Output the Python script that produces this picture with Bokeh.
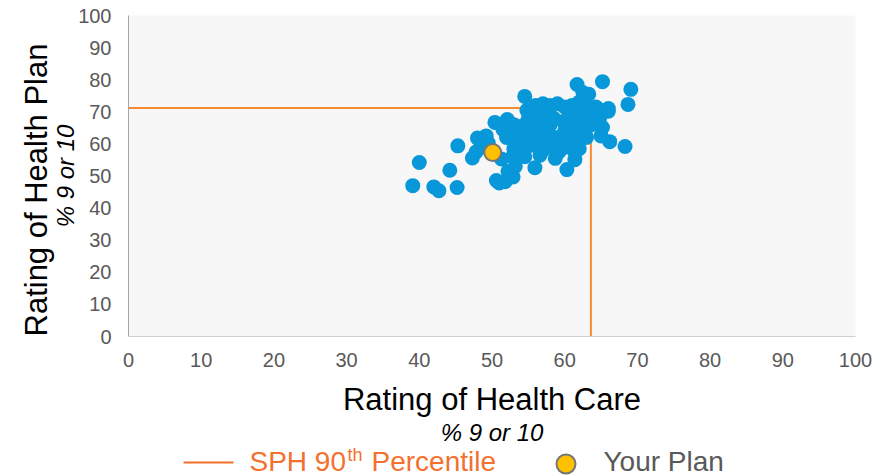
from bokeh.plotting import figure
from bokeh.models import Range1d, FixedTicker, ColumnDataSource, Title
from bokeh.layouts import column
from bokeh.core.properties import value
from bokeh.embed import file_html
from bokeh.resources import INLINE

FONT = "Liberation Sans"

# ---- data ----
care = [39.1, 40.0, 42.0, 42.7, 44.2, 45.2, 45.3, 47.3, 47.8, 48.0, 48.5, 49.2, 49.5,
        50.6, 51.0, 51.8, 52.9, 52.2, 53.2, 55.9, 51.3, 50.4, 52.1, 51.5, 52.0, 53.0,
        52.8, 54.5,
        61.7, 65.2, 69.1, 68.7, 66.2, 68.3, 65.2, 64.3, 66.0, 63.3, 62.5, 64.8, 63.7,
        65.0, 60.3, 61.4, 61.4, 63.0, 62.8, 64.5, 66.0,
        53.5, 54.0, 54.5, 55.0, 55.5, 56.0, 57.0, 58.0, 59.0, 60.0, 61.0, 62.0, 56.0,
        56.5, 57.0, 57.5, 58.0, 58.5, 59.0, 59.5, 60.0, 60.5, 61.0, 61.5, 62.0, 62.5,
        53.8, 54.5, 55.2, 55.8, 56.3, 57.2, 58.3, 59.2, 60.2, 61.0, 62.0, 63.0, 57.8,
        55.0, 54.2, 56.6, 58.7, 59.8, 60.8, 57.5, 55.4, 53.0, 63.5, 60.0, 61.8, 62.8,
        58.2, 54.8, 53.2]
plan = [47.0, 54.2, 46.6, 45.4, 51.8, 46.4, 59.4, 55.6, 57.5, 61.8, 59.0, 62.5, 60.3,
        48.6, 47.8, 48.2, 49.7, 51.5, 53.0, 52.6, 55.3, 66.7, 67.6, 64.5, 62.0, 58.5,
        56.0, 74.8,
        78.5, 79.4, 77.0, 72.3, 60.7, 59.2, 65.1, 71.5, 70.2, 75.5, 76.0, 68.0, 66.0,
        62.5, 52.0, 55.1, 57.5, 62.0, 73.0, 71.0, 71.0,
        61.0, 64.0, 66.0, 68.0, 70.0, 72.0, 72.5, 72.0, 72.5, 71.5, 72.0, 73.0, 62.0,
        60.0, 58.0, 64.0, 66.0, 68.0, 62.0, 60.0, 64.0, 66.0, 68.0, 62.0, 65.0, 69.0,
        58.5, 56.0, 59.5, 64.5, 67.0, 69.5, 61.0, 57.5, 59.0, 60.0, 58.5, 68.0, 63.0,
        62.5, 62.0, 56.5, 55.5, 67.0, 70.0, 71.0, 66.0, 66.0, 70.5, 62.0, 64.0, 63.5,
        59.2, 70.5, 64.0]

your_plan_care = [50.1]
your_plan_plan = [57.3]

p90_care = 63.6
p90_plan = 71.2

x_ticks = [0, 10, 20, 30, 40, 50, 60, 70, 80, 90, 100]
y_ticks = [0, 10, 20, 30, 40, 50, 60, 70, 80, 90, 100]

x_title = "Rating of Health Care"
y_title = "Rating of Health Plan"
sub_title = "% 9 or 10"
legend_line_parts = ["SPH 90", "th", "Percentile"]
legend_dot_label = "Your Plan"

BLUE = "#0897D8"
ORANGE = "#F58A2F"
LEG_ORANGE = "#F4702E"
GOLD = "#FFC000"
GRAY_TXT = "#595959"

W = 887
FRAME_L, FRAME_R, FRAME_T, FRAME_B = 128, 855, 15, 336
MAIN_H = 376
LEG_H = 100

# ---- main chart ----
p = figure(width=W, height=MAIN_H, output_backend="svg", toolbar_location=None,
           x_range=Range1d(0, 100), y_range=Range1d(0, 100),
           min_border_left=FRAME_L, min_border_right=W - FRAME_R,
           min_border_top=FRAME_T, min_border_bottom=MAIN_H - FRAME_B)
p.background_fill_color = "#F7F7F7"
p.border_fill_color = "white"
p.outline_line_color = None
p.xgrid.visible = False
p.ygrid.visible = False

for ax, ticks in ((p.xaxis[0], x_ticks), (p.yaxis[0], y_ticks)):
    ax.ticker = FixedTicker(ticks=ticks)
    ax.major_tick_in = 0
    ax.major_tick_out = 0
    ax.minor_tick_in = 0
    ax.minor_tick_out = 0
    ax.major_label_text_font = FONT
    ax.major_label_text_font_size = "20px"
    ax.major_label_text_color = GRAY_TXT
p.xaxis.major_label_standoff = 16
p.yaxis.major_label_standoff = 17
p.xaxis.axis_line_color = "#D0D0D0"
p.yaxis.axis_line_color = "#A6A6A6"

# left titles (subtitle nearest the axis, then main title)
p.add_layout(Title(text=sub_title, align="center", text_font=FONT,
                   text_font_size="24px", text_font_style="italic",
                   text_color="black", standoff=-6), "left")
p.add_layout(Title(text=y_title, align="left", offset=0, text_font=FONT,
                   text_font_size="31px", text_font_style="normal",
                   text_color="black", standoff=-2), "left")

# percentile lines
p.line(x=[0, p90_care, p90_care], y=[p90_plan, p90_plan, 0],
       line_color=ORANGE, line_width=2)

src = ColumnDataSource(dict(x=care, y=plan))
p.scatter("x", "y", source=src, size=15, fill_color=BLUE, line_color=None)
p.scatter(your_plan_care, your_plan_plan, size=17, fill_color=GOLD,
          line_color="#767676", line_width=2)

# ---- bottom strip: x title, subtitle and legend (page-pixel coordinates) ----
lg = figure(width=W, height=LEG_H, output_backend="svg", toolbar_location=None,
            x_range=Range1d(FRAME_L, FRAME_R), y_range=Range1d(MAIN_H + LEG_H, MAIN_H),
            x_axis_type=None, y_axis_type=None,
            min_border_left=FRAME_L, min_border_right=W - FRAME_R,
            min_border_top=0, min_border_bottom=0)
lg.outline_line_color = None
lg.xgrid.visible = False
lg.ygrid.visible = False
lg.background_fill_color = "white"
lg.border_fill_color = "white"

xc = (FRAME_L + FRAME_R) / 2
lg.text(x=[xc], y=[399], text=[x_title], text_font=value(FONT), text_font_size="31px",
        text_color="black", text_align="center", text_baseline="alphabetic")
lg.text(x=[xc], y=[431.5], text=[sub_title], text_font=value(FONT), text_font_size="24px",
        text_font_style="italic", text_color="black", text_align="center",
        text_baseline="alphabetic")

lg.line(x=[183, 233], y=[462, 462], line_color=LEG_ORANGE, line_width=2)
lg.text(x=[249], y=[461], text=[legend_line_parts[0]], text_font=value(FONT),
        text_font_size="28px", text_color=LEG_ORANGE, text_baseline="alphabetic")
lg.text(x=[347], y=[454], text=[legend_line_parts[1]], text_font=value(FONT),
        text_font_size="18px", text_color=LEG_ORANGE, text_baseline="alphabetic")
lg.text(x=[371], y=[461], text=[legend_line_parts[2]], text_font=value(FONT),
        text_font_size="28px", text_color=LEG_ORANGE, text_baseline="alphabetic")
lg.scatter(x=[565.5], y=[463.5], size=19, fill_color=GOLD, line_color="#767676",
           line_width=2)
lg.text(x=[603], y=[461], text=[legend_dot_label], text_font=value(FONT),
        text_font_size="28px", text_color=GRAY_TXT, text_baseline="alphabetic")

layout = column(p, lg, spacing=0)
open("out.html", "w").write(file_html(layout, INLINE))
